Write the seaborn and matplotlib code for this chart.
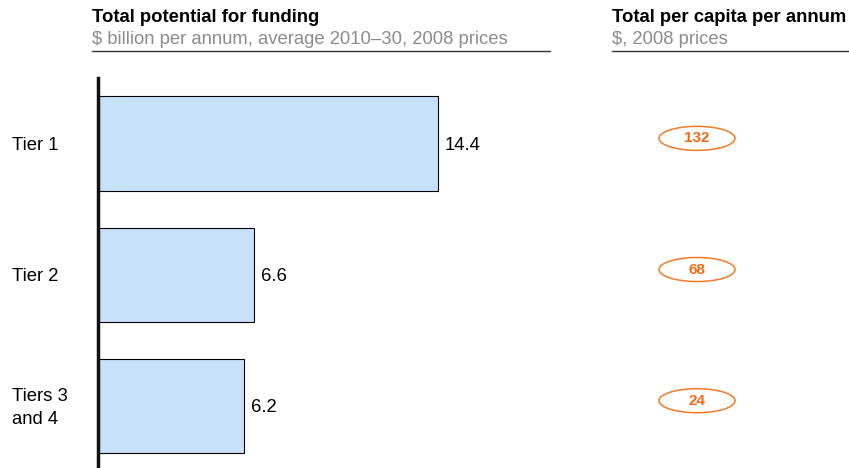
import matplotlib.pyplot as plt
import seaborn as sns
import pandas as pd
from matplotlib.patches import Ellipse

tiers = ['Tier 1', 'Tier 2', 'Tiers 3\nand 4']
funding = [14.4, 6.6, 6.2]
per_capita = [132, 68, 24]

dados = pd.DataFrame({'tier': tiers, 'funding': funding, 'per_capita': per_capita})

sns.set_style('white')
plt.rcParams['font.family'] = ['Liberation Sans', 'DejaVu Sans']
plt.rcParams['text.color'] = 'black'

fig = plt.figure(figsize=(8.49, 4.68), dpi=100)
W, H = 849, 468

# main bar panel
ax = fig.add_axes([98 / W, 0, (550 - 98) / W, (468 - 78) / H])
sns.barplot(data=dados, x='funding', y='tier', orient='h', color='#c8e1fb',
            saturation=1, width=0.72, edgecolor='black', linewidth=0.8, ax=ax)
ax.set_xlim(0, (550 - 98) / 23.6)
ax.set_ylim(2.473, -0.5)
for i, v in enumerate(funding):
    ax.text(v + 7 / 23.6, i + 0.015, f'{v:.1f}', ha='left', va='center',
            fontsize=13.3, color='black')
for s in ['top', 'right', 'bottom']:
    ax.spines[s].set_visible(False)
ax.spines['left'].set_linewidth(2.5)
ax.spines['left'].set_color('#111111')
ax.set_xticks([])
ax.set_yticks([])
ax.set_xlabel('')
ax.set_ylabel('')
for i, t in enumerate(tiers):
    ax.text(-86 / 23.6, i + 0.015, t, ha='left', va='center', fontsize=13.3,
            linespacing=1.45, color='black')

# per capita panel
ax2 = fig.add_axes([612 / W, 0, (W - 612) / W, (468 - 78) / H])
ax2.set_xlim(0, 1)
ax2.set_ylim(2.473, -0.5)
ax2.axis('off')
for i, v in enumerate(per_capita):
    yc = i - 0.04
    ax2.add_patch(Ellipse((85 / 237, yc), 76 / 237, 24 / 131, fill=False,
                          edgecolor='#f47a2a', linewidth=1.1))
    ax2.text(85 / 237, yc, str(v), ha='center', va='center', fontsize=11,
             fontweight='bold', color='#f26a10')

# headers
fig.text(92 / W, 1 - 17 / H, 'Total potential for funding', fontsize=13.3,
         fontweight='bold', va='center', ha='left', color='black')
fig.text(92 / W, 1 - 39 / H, '$ billion per annum, average 2010\u201330, 2008 prices',
         fontsize=13.3, color='#8c8c8c', va='center', ha='left')
fig.add_artist(plt.Line2D([92 / W, 550 / W], [1 - 50.5 / H, 1 - 50.5 / H],
                          color='#333333', linewidth=1))
fig.text(612 / W, 1 - 17 / H, 'Total per capita per annum', fontsize=13.3,
         fontweight='bold', va='center', ha='left', color='black')
fig.text(612 / W, 1 - 39 / H, '$, 2008 prices', fontsize=13.3, color='#8c8c8c',
         va='center', ha='left')
fig.add_artist(plt.Line2D([612 / W, 1], [1 - 50.5 / H, 1 - 50.5 / H],
                          color='#333333', linewidth=1))

fig.savefig('out.png', dpi=100)
